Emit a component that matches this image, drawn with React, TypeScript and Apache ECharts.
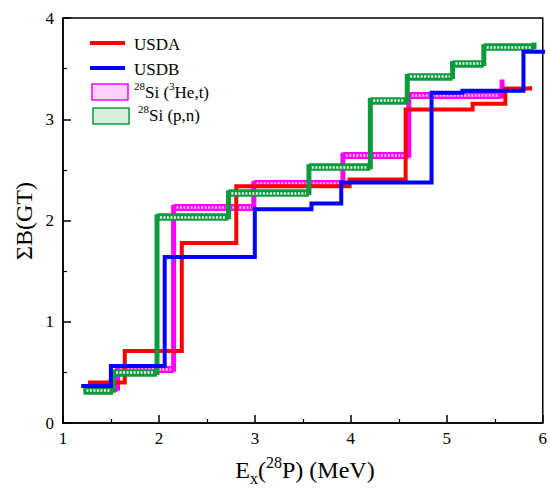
import React, { useEffect, useRef } from "react";
import * as echarts from "echarts";

// Step edges (MeV) and cumulative levels ΣB(GT) between consecutive edges
const usdaX = [1.26, 1.644, 2.238, 2.806, 3.987, 4.571, 5.269, 5.61, 5.868];
const usdaY = [0.4, 0.711, 1.779, 2.339, 2.405, 3.097, 3.154, 3.304];
const usdaEnd = 3.325;

const usdbX = [1.19, 1.499, 2.06, 2.999, 3.59, 3.9, 4.841, 5.163, 5.799, 6.05];
const usdbY = [0.366, 0.563, 1.64, 2.112, 2.168, 2.375, 3.261, 3.281, 3.666];
const usdbEnd: number | null = null;

const hetX = [1.25, 1.568, 2.153, 2.989, 3.917, 4.604, 5.576];
const hetY = [0.343, 0.531, 2.128, 2.366, 2.645, 3.233];
const hetEnd = 3.393;

const pnX = [1.214, 1.523, 1.98, 2.725, 3.563, 4.203, 4.588, 5.06, 5.386, 5.909];
const pnY = [0.323, 0.498, 2.036, 2.273, 2.53, 3.184, 3.421, 3.551, 3.715];
const pnEnd = 3.757;

const xTicks = [1, 2, 3, 4, 5, 6];
const yTicks = [0, 1, 2, 3, 4];

const FONT = "Liberation Serif";

function stepPoints(xs: number[], ys: number[], end: number | null) {
  const pts: number[][] = [];
  for (let i = 0; i < ys.length; i++) {
    pts.push([xs[i], ys[i]]);
    pts.push([xs[i + 1], ys[i]]);
  }
  if (end !== null) pts.push([xs[xs.length - 1], end]);
  return pts;
}

function flatSegments(xs: number[], ys: number[], inset: number) {
  const segs: any[] = [];
  for (let i = 0; i < ys.length; i++) {
    segs.push({ coords: [[xs[i] + inset, ys[i]], [xs[i + 1] - inset, ys[i]]] });
  }
  return segs;
}

export default function App() {
  const ref = useRef<HTMLDivElement>(null);
  useEffect(() => {
    if (!ref.current) return;
    const chart = echarts.init(ref.current, null, { renderer: "svg" });
    const lineSeries = (name: string, pts: number[][], color: string, width: number, z: number) => ({
      name,
      type: "line",
      data: pts,
      showSymbol: false,
      symbol: "none",
      z,
      clip: true,
      lineStyle: { color, width, cap: "butt", join: "miter" },
    });
    const band = (segs: any[], color: string, width: number, z: number, type: any = "solid") => ({
      type: "lines",
      coordinateSystem: "cartesian2d",
      data: segs,
      z,
      silent: true,
      lineStyle: { color, width, type, opacity: 1, cap: "butt" },
    });
    const rich = {
      n: { fontSize: 17, fontFamily: FONT, fill: "#000", color: "#000", lineHeight: 24, verticalAlign: "middle" },
      sup: { fontSize: 11, fontFamily: FONT, fill: "#000", color: "#000", lineHeight: 12, verticalAlign: "top" },
    };
    const titleRich = {
      n: { fontSize: 24, fontFamily: FONT, fill: "#000", color: "#000", lineHeight: 32, verticalAlign: "middle" },
      sup: { fontSize: 16, fontFamily: FONT, fill: "#000", color: "#000", lineHeight: 16, verticalAlign: "top" },
      sub: { fontSize: 16, fontFamily: FONT, fill: "#000", color: "#000", lineHeight: 16, verticalAlign: "bottom" },
    };
    const textStyle = (size: number) => ({ fontSize: size, fontFamily: FONT, fill: "#000" });
    chart.setOption({
      animation: false,
      grid: {
        left: 63,
        right: 2,
        top: 18,
        bottom: 67,
        show: true,
        borderColor: "#000",
        borderWidth: 1.5,
        containLabel: false,
      },
      xAxis: {
        type: "value",
        min: xTicks[0],
        max: xTicks[xTicks.length - 1],
        interval: 1,
        splitLine: { show: false },
        axisLine: { show: true, lineStyle: { color: "#000", width: 1.5 } },
        axisTick: { show: true, inside: true, length: 8, lineStyle: { color: "#000", width: 1.5 } },
        minorTick: { show: true, splitNumber: 2, length: 4, lineStyle: { color: "#000", width: 1.2 } },
        axisLabel: { color: "#000", fontSize: 17, fontFamily: FONT, margin: 7 },
      },
      yAxis: {
        type: "value",
        min: yTicks[0],
        max: yTicks[yTicks.length - 1],
        interval: 1,
        splitLine: { show: false },
        axisLine: { show: true, lineStyle: { color: "#000", width: 1.5 } },
        axisTick: { show: true, inside: true, length: 8, lineStyle: { color: "#000", width: 1.5 } },
        minorTick: { show: true, splitNumber: 2, length: 4, lineStyle: { color: "#000", width: 1.2 } },
        axisLabel: { color: "#000", fontSize: 17, fontFamily: FONT, margin: 9 },
      },
      series: [
        lineSeries("28Si (3He,t)", stepPoints(hetX, hetY, hetEnd), "#ff00ff", 5, 2),
        band(flatSegments(hetX, hetY, 0), "#ff00ff", 7, 2),
        band(flatSegments(hetX, hetY, 0.03), "#fcc6fc", 2.5, 3, [2, 1.5]),
        lineSeries("USDA", stepPoints(usdaX, usdaY, usdaEnd), "#ff0000", 4, 4),
        lineSeries("28Si (p,n)", stepPoints(pnX, pnY, pnEnd), "#0c9a3c", 5, 5),
        band(flatSegments(pnX, pnY, 0), "#0c9a3c", 7.5, 5),
        band(flatSegments(pnX, pnY, 0.03), "#eef8f0", 2.5, 6, [2, 1.5]),
        lineSeries("USDB", stepPoints(usdbX, usdbY, usdbEnd), "#0000ff", 4, 7),
      ],
      graphic: [
        { type: "line", shape: { x1: 90, y1: 43, x2: 125, y2: 43 }, style: { stroke: "#ff0000", lineWidth: 4 } },
        { type: "text", x: 134, y: 44, style: { ...textStyle(17), text: "USDA", verticalAlign: "middle", align: "left" } },
        { type: "line", shape: { x1: 90, y1: 68, x2: 125, y2: 68 }, style: { stroke: "#0000ff", lineWidth: 4 } },
        { type: "text", x: 134, y: 69, style: { ...textStyle(17), text: "USDB", verticalAlign: "middle", align: "left" } },
        { type: "rect", shape: { x: 92, y: 84, width: 36, height: 16 }, style: { fill: "#fbd2fb", stroke: "#ff00ff", lineWidth: 1.5 } },
        {
          type: "text", x: 134, y: 92,
          style: { ...textStyle(17), text: "{sup|28}{n|Si (}{sup|3}{n|He,t)}", rich, verticalAlign: "middle", align: "left" },
        },
        { type: "rect", shape: { x: 93, y: 108, width: 36, height: 16 }, style: { fill: "#d9efde", stroke: "#0c9a3c", lineWidth: 1.5 } },
        {
          type: "text", x: 138, y: 115,
          style: { ...textStyle(17), text: "{sup|28}{n|Si (p,n)}", rich, verticalAlign: "middle", align: "left" },
        },
        {
          type: "text", x: 305, y: 470,
          style: { ...textStyle(24), text: "{n|E}{sub|x}{n|(}{sup|28}{n|P) (MeV)}", rich: titleRich, verticalAlign: "middle", align: "center" },
        },
        {
          type: "text", x: 24, y: 221, rotation: Math.PI / 2,
          style: { ...textStyle(24), text: "ΣB(GT)", verticalAlign: "middle", align: "center" },
        },
      ],
    });
    return () => chart.dispose();
  }, []);
  return (
    <div
      ref={ref}
      style={{ position: "fixed", left: 0, top: 0, width: 550, height: 490, background: "#fff" }}
    />
  );
}
